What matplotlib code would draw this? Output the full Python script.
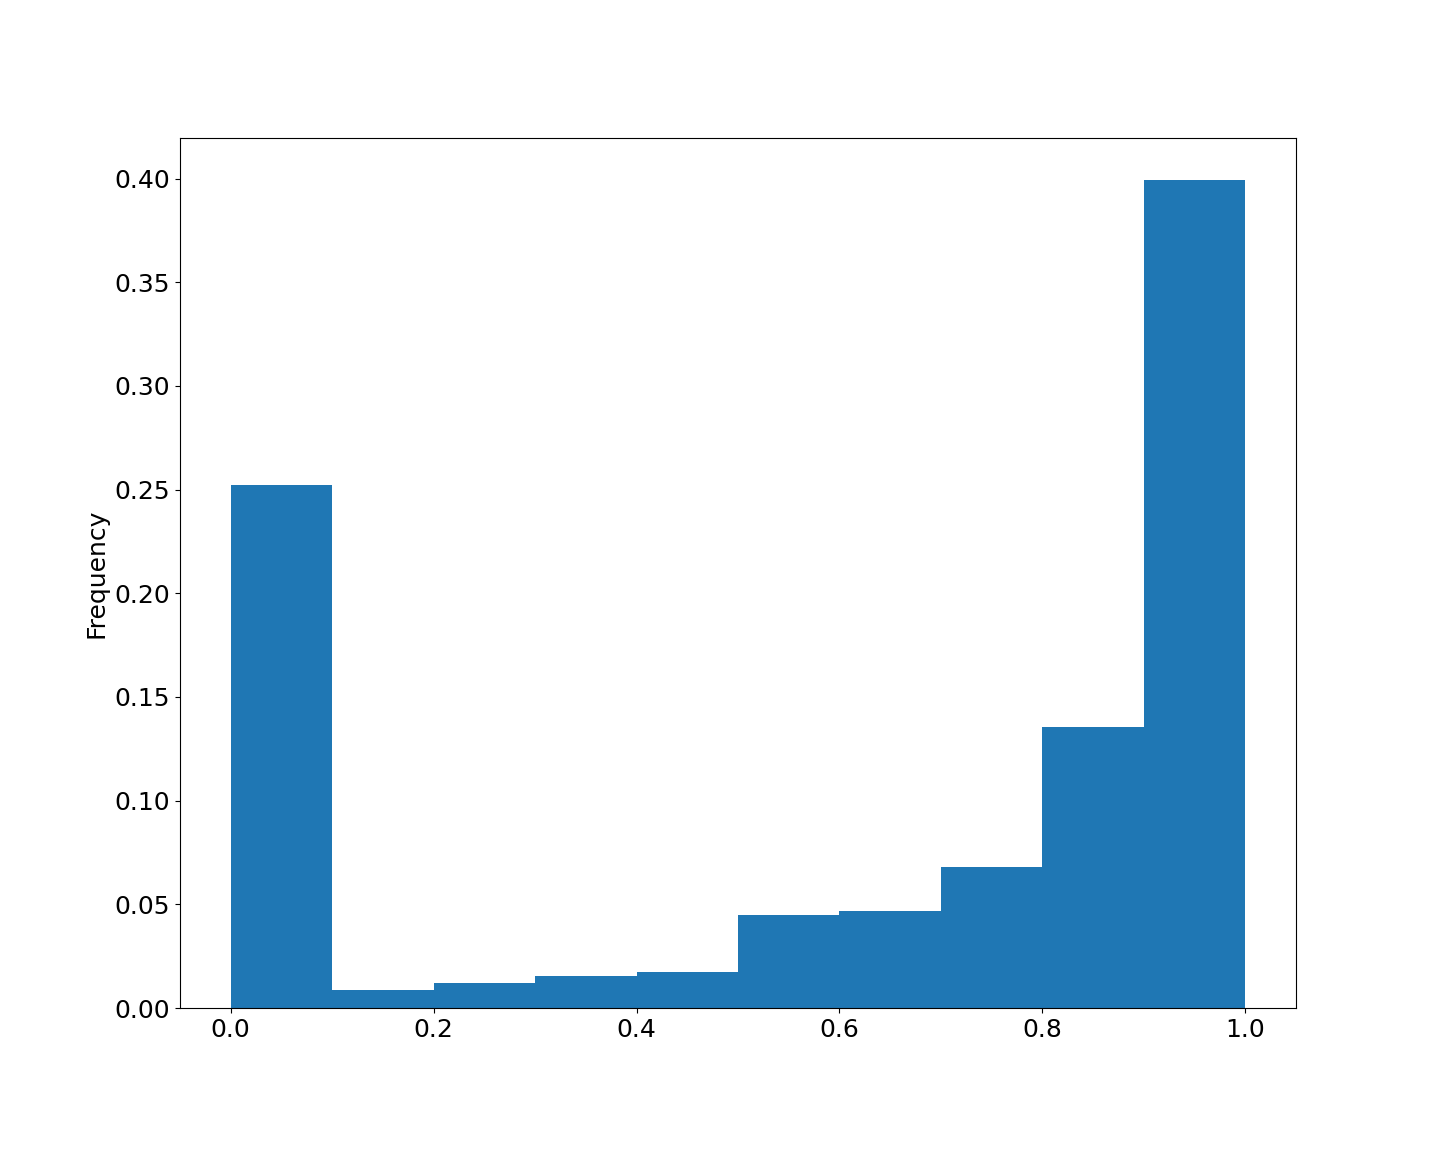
import numpy as np
import matplotlib
matplotlib.use('Agg')
import matplotlib.pyplot as plt

# Histogram bins (10 equal bins over [0, 1]) and the share of values in each
bin_edges = [0.0, 0.1, 0.2, 0.3, 0.4, 0.5, 0.6, 0.7, 0.8, 0.9, 1.0]
frequencies = [0.2522, 0.0087, 0.0121, 0.0155, 0.0174,
               0.0449, 0.0469, 0.0681, 0.1357, 0.3995]

plt.rcParams['font.size'] = 18

fig, ax = plt.subplots(figsize=(14.4, 11.52), dpi=100)
fig.subplots_adjust(left=0.125, right=0.9, top=0.88, bottom=0.125)

ax.hist(bin_edges[:-1], bins=bin_edges, weights=frequencies, color='#1f77b4')
ax.set_ylabel('Frequency')
ax.set_yticks(np.arange(0, 0.45, 0.05))

plt.savefig('out.png', dpi=100)
